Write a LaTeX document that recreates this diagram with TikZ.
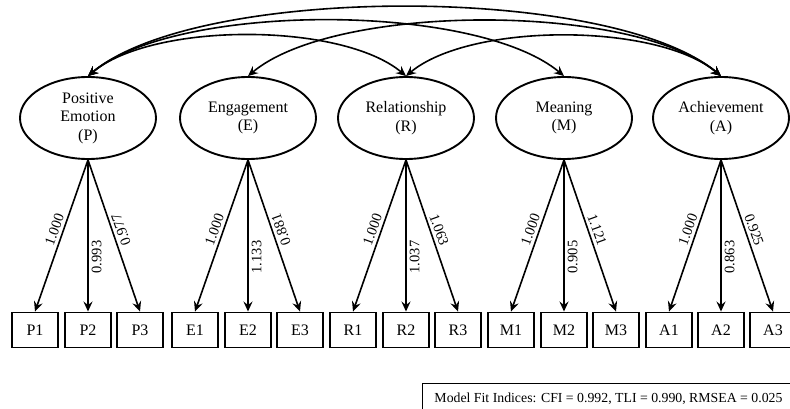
\documentclass[tikz,border=0pt]{standalone}
\usepackage{fontspec}
\setmainfont{Liberation Serif}
\usetikzlibrary{arrows.meta,shapes.geometric,positioning,calc}

\begin{document}
\begin{tikzpicture}[x=1pt,y=1pt,
latent/.style={ellipse,draw,line width=1.9pt,minimum width=136pt,minimum height=82pt,
inner sep=0pt,align=center,font=\fontsize{16}{18.5}\selectfont},
item/.style={draw,line width=1.9pt,minimum width=46pt,minimum height=35pt,
inner sep=0pt,font=\fontsize{16}{18}\selectfont},
load/.style={line width=1.6pt,-{Stealth[length=10pt,width=9pt,inset=3.5pt]}},
cov/.style={line width=1.6pt,{Stealth[length=10pt,width=9pt,inset=3.5pt]}-{Stealth[length=10pt,width=9pt,inset=3.5pt]}},
wt/.style={font=\fontsize{14.5}{15}\selectfont,inner sep=3.5pt},
wl/.style={wt,rotate=70,anchor=south},
wm/.style={wt,rotate=90,anchor=north},
wr/.style={wt,rotate=-70,anchor=south},
wu/.style={wt,rotate=110,anchor=north}]
\useasboundingbox (0,0) rectangle (790,-409);

% latent factors
\node[latent] (P) at (88,-118) {Positive\\Emotion\\(P)};
\node[latent] (E) at (248,-118) {Engagement\\(E)};
\node[latent] (R) at (406,-118) {Relationship\\(R)};
\node[latent] (M) at (564,-118) {Meaning\\(M)};
\node[latent] (A) at (721,-118) {Achievement\\(A)};

% indicators
\node[item] (P1) at (35,-330) {P1};
\node[item] (P2) at (88,-330) {P2};
\node[item] (P3) at (140,-330) {P3};
\node[item] (E1) at (195,-330) {E1};
\node[item] (E2) at (248,-330) {E2};
\node[item] (E3) at (300,-330) {E3};
\node[item] (R1) at (353,-330) {R1};
\node[item] (R2) at (406,-330) {R2};
\node[item] (R3) at (458,-330) {R3};
\node[item] (M1) at (511,-330) {M1};
\node[item] (M2) at (564,-330) {M2};
\node[item] (M3) at (616,-330) {M3};
\node[item] (A1) at (669,-330) {A1};
\node[item] (A2) at (721,-330) {A2};
\node[item] (A3) at (773,-330) {A3};

% loadings
\draw[load] (P.south) -- (P1.north);
\draw[load] (P.south) -- (P2.north);
\draw[load] (P.south) -- (P3.north);
\draw[load] (E.south) -- (E1.north);
\draw[load] (E.south) -- (E2.north);
\draw[load] (E.south) -- (E3.north);
\draw[load] (R.south) -- (R1.north);
\draw[load] (R.south) -- (R2.north);
\draw[load] (R.south) -- (R3.north);
\draw[load] (M.south) -- (M1.north);
\draw[load] (M.south) -- (M2.north);
\draw[load] (M.south) -- (M3.north);
\draw[load] (A.south) -- (A1.north);
\draw[load] (A.south) -- (A2.north);
\draw[load] (A.south) -- (A3.north);

% loading values
\node[wl] (lP1) at ($(P.south)!.48!(P1.north)$) {1.000};
\node[wm] (lP2) at ($(P.south)!.64!(P2.north)$) {0.993};
\node[wu] (lP3) at ($(P.south)!.48!(P3.north)$) {0.977};
\node[wl] (lE1) at ($(E.south)!.48!(E1.north)$) {1.000};
\node[wm] (lE2) at ($(E.south)!.64!(E2.north)$) {1.133};
\node[wu] (lE3) at ($(E.south)!.48!(E3.north)$) {0.881};
\node[wl] (lR1) at ($(R.south)!.48!(R1.north)$) {1.000};
\node[wm] (lR2) at ($(R.south)!.64!(R2.north)$) {1.037};
\node[wr] (lR3) at ($(R.south)!.48!(R3.north)$) {1.063};
\node[wl] (lM1) at ($(M.south)!.48!(M1.north)$) {1.000};
\node[wm] (lM2) at ($(M.south)!.64!(M2.north)$) {0.905};
\node[wr] (lM3) at ($(M.south)!.48!(M3.north)$) {1.121};
\node[wl] (lA1) at ($(A.south)!.48!(A1.north)$) {1.000};
\node[wm] (lA2) at ($(A.south)!.64!(A2.north)$) {0.863};
\node[wr] (lA3) at ($(A.south)!.48!(A3.north)$) {0.925};

% covariances
\draw[cov] (P.north) to[out=40,in=140,looseness=.58] (A.north);
\draw[cov] (P.north) to[out=40,in=140,looseness=.62] (M.north);
\draw[cov] (P.north) to[out=40,in=140,looseness=.68] (R.north);
\draw[cov] (E.north) to[out=40,in=140,looseness=.62] (A.north);
\draw[cov] (R.north) to[out=40,in=140,looseness=.68] (A.north);

\node[draw,line width=1pt,anchor=north west,minimum width=372pt,minimum height=30pt,
font=\fontsize{13.8}{15}\selectfont] (fit) at (422,-383)
{Model Fit Indices: CFI = 0.992, TLI = 0.990, RMSEA = 0.025};
\end{tikzpicture}
\end{document}
